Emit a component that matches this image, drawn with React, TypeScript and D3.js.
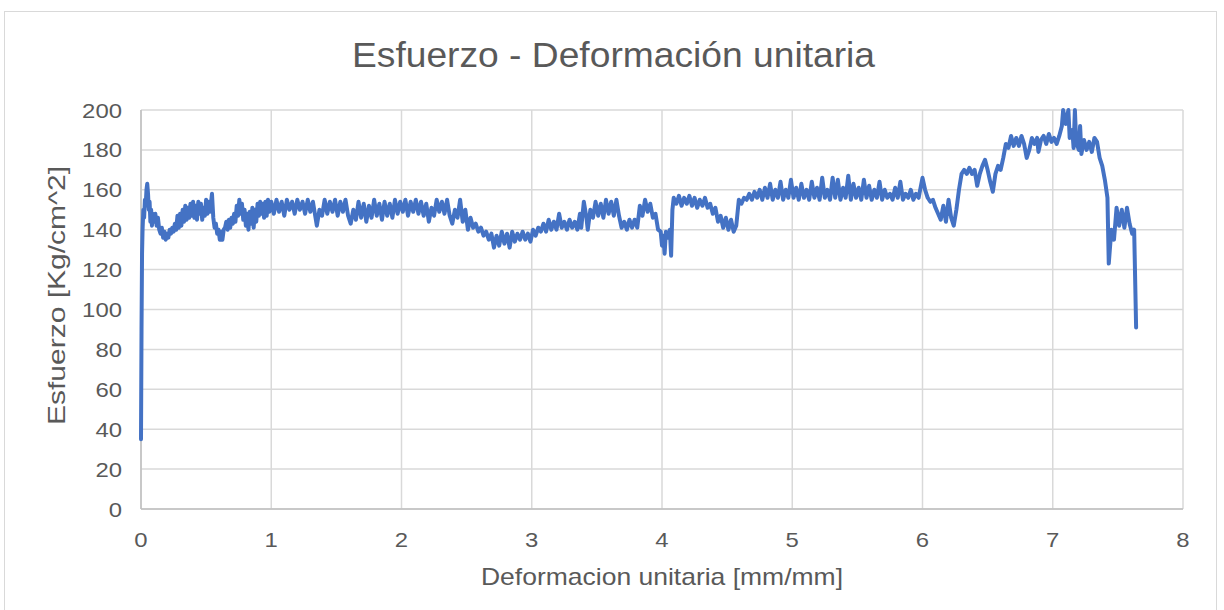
import React from 'react';
import * as d3 from 'd3';

// strain [mm/mm]
const strain = [
  0, 0.004, 0.008, 0.012, 0.018, 0.024, 0.03, 0.036, 0.042, 0.048, 0.054, 0.06, 0.066, 0.072, 0.078, 0.084, 0.09,
  0.1, 0.11, 0.12, 0.13, 0.14, 0.15, 0.16, 0.17, 0.18, 0.19, 0.2, 0.21, 0.22, 0.23, 0.24, 0.25, 0.26, 0.27, 0.28, 0.29,
  0.3, 0.31, 0.32, 0.33, 0.34, 0.35, 0.36, 0.37, 0.38, 0.39, 0.4, 0.41, 0.42, 0.43, 0.44, 0.45, 0.46, 0.47, 0.48, 0.49,
  0.5, 0.51, 0.52, 0.53, 0.545, 0.555, 0.565, 0.575, 0.585, 0.595, 0.605, 0.615, 0.625, 0.635, 0.645, 0.655, 0.665,
  0.675, 0.685, 0.695, 0.705, 0.715, 0.725, 0.735, 0.745, 0.755, 0.765, 0.775, 0.785, 0.795, 0.805, 0.815, 0.825,
  0.835, 0.845, 0.855, 0.865, 0.875, 0.885, 0.895, 0.905, 0.915, 0.925, 0.935, 0.945, 0.955, 0.965, 0.975, 0.985,
  1.0, 1.02, 1.04, 1.06, 1.08, 1.1, 1.12, 1.14, 1.16, 1.18, 1.2, 1.22, 1.24, 1.26, 1.28, 1.3, 1.32, 1.34, 1.35, 1.37,
  1.39, 1.41, 1.43, 1.45, 1.47, 1.49, 1.51, 1.53, 1.55, 1.57, 1.59, 1.61, 1.63, 1.65, 1.67, 1.69, 1.71, 1.73, 1.75,
  1.77, 1.79, 1.81, 1.83, 1.85, 1.87, 1.89, 1.91, 1.93, 1.95, 1.97, 1.99, 2.01, 2.03, 2.05, 2.07, 2.09, 2.11, 2.13,
  2.15, 2.17, 2.19, 2.21, 2.23, 2.25, 2.27, 2.29, 2.31, 2.33, 2.35, 2.37, 2.39, 2.41, 2.43, 2.45, 2.47, 2.49, 2.51,
  2.53, 2.55, 2.57, 2.59, 2.61, 2.63, 2.65, 2.67, 2.69, 2.71, 2.73, 2.75, 2.77, 2.79, 2.81, 2.83, 2.85, 2.87, 2.89,
  2.91, 2.93, 2.95, 2.97, 2.99, 3.01, 3.03, 3.05, 3.07, 3.09, 3.11, 3.13, 3.15, 3.17, 3.19, 3.21, 3.23, 3.25, 3.27,
  3.29, 3.31, 3.33, 3.35, 3.37, 3.38, 3.4, 3.42, 3.43, 3.45, 3.47, 3.49, 3.51, 3.53, 3.55, 3.57, 3.59, 3.61, 3.63,
  3.65, 3.67, 3.69, 3.71, 3.73, 3.75, 3.77, 3.79, 3.81, 3.83, 3.85, 3.87, 3.89, 3.91, 3.93, 3.95, 3.97, 3.99, 4.0,
  4.01, 4.02, 4.03, 4.045, 4.06, 4.07, 4.08, 4.09, 4.11, 4.13, 4.15, 4.17, 4.19, 4.21, 4.23, 4.25, 4.27, 4.29, 4.31,
  4.33, 4.35, 4.37, 4.39, 4.41, 4.43, 4.45, 4.47, 4.49, 4.51, 4.53, 4.55, 4.57, 4.59, 4.61, 4.63, 4.65, 4.67, 4.69,
  4.71, 4.73, 4.75, 4.77, 4.79, 4.81, 4.83, 4.85, 4.87, 4.89, 4.91, 4.93, 4.95, 4.97, 4.99, 5.01, 5.03, 5.05, 5.07,
  5.09, 5.11, 5.13, 5.15, 5.17, 5.19, 5.21, 5.23, 5.25, 5.27, 5.29, 5.31, 5.33, 5.35, 5.37, 5.39, 5.41, 5.43, 5.45,
  5.47, 5.49, 5.51, 5.53, 5.55, 5.57, 5.59, 5.61, 5.63, 5.65, 5.67, 5.69, 5.71, 5.73, 5.75, 5.77, 5.79, 5.81, 5.83,
  5.85, 5.87, 5.89, 5.91, 5.93, 5.95, 5.97, 6.0, 6.02, 6.04, 6.06, 6.08, 6.1, 6.12, 6.14, 6.16, 6.18, 6.2, 6.22, 6.24,
  6.26, 6.28, 6.3, 6.32, 6.34, 6.36, 6.38, 6.4, 6.42, 6.44, 6.46, 6.48, 6.5, 6.52, 6.54, 6.56, 6.58, 6.6, 6.62, 6.64,
  6.66, 6.68, 6.7, 6.72, 6.74, 6.76, 6.78, 6.8, 6.82, 6.84, 6.86, 6.88, 6.89, 6.91, 6.93, 6.95, 6.97, 6.99, 7.01,
  7.03, 7.05, 7.07, 7.08, 7.1, 7.12, 7.13, 7.15, 7.16, 7.17, 7.18, 7.2, 7.21, 7.22, 7.24, 7.26, 7.28, 7.3, 7.32, 7.34,
  7.36, 7.38, 7.4, 7.42, 7.43, 7.45, 7.47, 7.49, 7.51, 7.53, 7.55, 7.57, 7.59, 7.61, 7.625, 7.64,
];

// stress [Kg/cm^2], one value per strain entry
const stress = [
  35, 90, 128, 140, 150, 146, 155, 152, 160, 163, 158, 150, 154, 144, 150, 142, 148,
  144, 148, 142, 146, 140, 138, 141, 136, 139, 135, 138, 136, 140, 138, 141, 139, 143, 140, 147, 141,
  148, 142, 150, 144, 152, 145, 151, 146, 153, 147, 154, 146, 152, 145, 154, 148, 153, 145, 151, 147,
  155, 148, 154, 149, 158, 146, 141, 143, 138, 140, 135, 139, 135, 140, 141, 144, 140,
  145, 141, 146, 143, 148, 144, 152, 147, 155, 148, 153, 145, 150, 142, 148, 140,
  149, 143, 151, 141, 150, 144, 153, 147, 154, 148, 153, 146, 154, 147, 155, 149,
  154, 148, 155, 149, 154, 147, 155, 150, 154, 148, 155, 150, 154, 148, 155, 149, 154, 146, 142, 150,
  147, 155, 148, 154, 149, 155, 147, 154, 149, 155, 147, 143, 150, 145, 154, 146, 153, 144, 152,
  146, 155, 147, 153, 145, 154, 147, 153, 146, 155, 148, 154, 149, 155, 147, 154, 149, 155, 148,
  154, 147, 153, 144, 151, 147, 155, 149, 154, 148, 155, 147, 143, 150, 146, 155, 144, 150, 140,
  146, 141, 143, 139, 141, 137, 139, 135, 138, 131, 137, 132, 139, 133, 138, 131, 139, 134, 138,
  135, 139, 135, 138, 134, 140, 137, 141, 139, 143, 139, 145, 140, 144, 140, 148, 141, 144, 140,
  145, 141, 144, 140, 148, 141, 154, 146, 140, 150, 146, 154, 147, 153, 146, 155, 148, 154, 147,
  155, 147, 141, 144, 140, 145, 141, 145, 141, 152, 147, 155, 149, 153, 146, 148, 140, 139, 132,
  137, 128, 139, 136, 140, 127, 150, 156, 153, 157, 152, 156, 153, 157, 152, 156, 151, 155, 152,
  156, 151, 153, 148, 151, 144, 147, 141, 146, 140, 145, 139, 142, 155, 153, 156, 155, 158, 155,
  159, 156, 160, 155, 161, 156, 163, 155, 160, 156, 164, 155, 160, 156, 165, 156, 161, 155, 163,
  156, 160, 155, 164, 156, 161, 155, 166, 156, 160, 155, 166, 156, 165, 155, 161, 156, 167, 155,
  163, 156, 161, 155, 165, 156, 162, 155, 160, 156, 164, 155, 160, 156, 158, 155, 161, 156, 164,
  155, 158, 156, 160, 155, 158, 156, 166, 160, 156, 154, 155, 151, 148, 145, 152, 144, 155, 146, 142,
  150, 160, 168, 170, 168, 171, 168, 170, 162, 168, 172, 175, 170, 164, 159, 168, 172, 170, 176, 183,
  181, 187, 182, 186, 182, 187, 183, 176, 180, 186, 183, 186, 179, 185, 187, 183, 188, 184, 186,
  183, 187, 192, 200, 193, 200, 186, 190, 181, 200, 184, 180, 192, 178, 185, 180, 184, 179, 186, 184,
  176, 172, 165, 156, 123, 140, 135, 151, 142, 150, 141, 151, 143, 138, 140, 91,
];

const xTicks = [0, 1, 2, 3, 4, 5, 6, 7, 8];
const yTicks = [0, 20, 40, 60, 80, 100, 120, 140, 160, 180, 200];

const title = 'Esfuerzo - Deformación unitaria';
const xTitle = 'Deformacion unitaria [mm/mm]';
const yTitle = 'Esfuerzo [Kg/cm^2]';

export default function App() {
  const width = 1224;
  const height = 610;
  const left = 141, right = 1183, top = 110, bottom = 509;

  const x = d3.scaleLinear().domain([0, 8]).range([left, right]);
  const y = d3.scaleLinear().domain([0, 200]).range([bottom, top]);

  const points: [number, number][] = strain.map((s, i) => [s, stress[i]]);
  const line = d3.line<[number, number]>()
    .x(d => x(d[0]))
    .y(d => y(d[1]));

  const font = 'Liberation Sans, Arial, sans-serif';
  // the reference text is a little wider than Liberation Sans, so digits get stretched
  const digitW = 13.3;

  return (
    <>
      <style>{'body{margin:0}'}</style>
      <svg width={width} height={height} style={{display: 'block', fontFamily: font}}>
        <rect x={0} y={0} width={width} height={height} fill="#fff"/>
        <rect x={4.5} y={11.5} width={1212} height={620} fill="none" stroke="#d9d9d9" strokeWidth={1}/>

        <text x={613.5} y={67} textAnchor="middle" fontSize={35} fill="#595959"
              textLength={523} lengthAdjust="spacingAndGlyphs">{title}</text>

        {/* grid */}
        <g stroke="#d9d9d9" strokeWidth={1.5}>
          {yTicks.map(t => (
            <line key={'h' + t} x1={left} x2={right} y1={y(t)} y2={y(t)}/>
          ))}
          {xTicks.map(t => (
            <line key={'v' + t} x1={x(t)} x2={x(t)} y1={top} y2={bottom}/>
          ))}
        </g>
        <line x1={left} x2={right} y1={y(0)} y2={y(0)} stroke="#bfbfbf" strokeWidth={1.5}/>
        <line x1={left} x2={left} y1={top} y2={bottom} stroke="#bfbfbf" strokeWidth={1.5}/>

        {/* tick labels */}
        <g fontSize={21} fill="#595959">
          {yTicks.map(t => (
            <text key={'yl' + t} x={122} y={y(t)} dy="0.36em" textAnchor="end"
                  textLength={String(t).length * digitW} lengthAdjust="spacingAndGlyphs">{t}</text>
          ))}
          {xTicks.map(t => (
            <text key={'xl' + t} x={x(t)} y={bottom + 38} textAnchor="middle"
                  textLength={String(t).length * digitW} lengthAdjust="spacingAndGlyphs">{t}</text>
          ))}
        </g>

        <text x={662} y={585} textAnchor="middle" fontSize={24} fill="#595959"
              textLength={362} lengthAdjust="spacingAndGlyphs">{xTitle}</text>
        <text transform={`translate(65, 295.5) rotate(-90)`} textAnchor="middle" fontSize={24} fill="#595959"
              textLength={259} lengthAdjust="spacingAndGlyphs">{yTitle}</text>

        <path d={line(points) || ''} fill="none" stroke="#4472C4" strokeWidth={4} strokeLinejoin="round" strokeLinecap="round"/>
      </svg>
    </>
  );
}
